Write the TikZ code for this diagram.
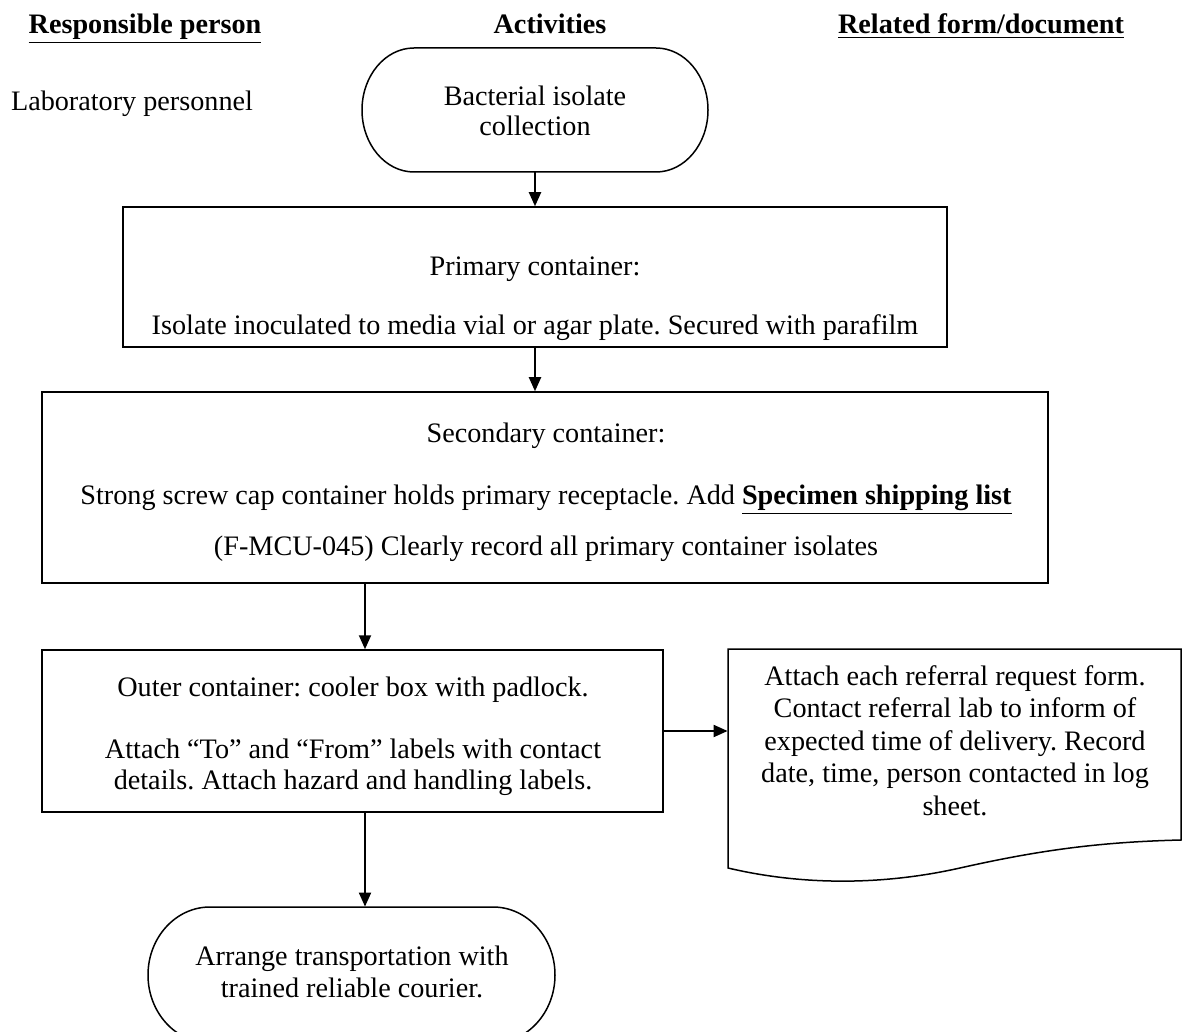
\documentclass[tikz,border=0pt]{standalone}
\usepackage{fontspec}
\setmainfont{Liberation Serif}
\usetikzlibrary{arrows.meta,fit}
\begin{document}
\frenchspacing
\begin{tikzpicture}[x=0.5pt,y=-0.5pt,
  box/.style={draw, line width=0.75pt, inner sep=0pt},
  ghost/.style={inner sep=0pt},
  txt/.style={font=\fontsize{14.1}{16.25}\selectfont, inner sep=0pt, anchor=base},
  head/.style={font=\fontsize{14.1}{16.25}\selectfont\bfseries, inner sep=0pt, anchor=base},
  arr/.style={line width=1pt, -{Triangle[length=7pt,width=6pt]}},
  shp/.style={line width=0.75pt}]
\useasboundingbox (0,0) rectangle (1184,1032);
\clip (0,0) rectangle (1184,1032);

% headings
\node[head] (h1) at (145,34) {\underline{Responsible person}};
\node[head] (h2) at (550,34) {Activities};
\node[head] (h3) at (981,34) {\underline{Related form/document}};
\node[txt] (lab) at (132,111) {Laboratory personnel};

% top terminal
\node[ghost, fit={(362,48) (708,172)}] (t1) {};
\draw[shp] (414,48) -- (656,48) arc[start angle=-90, end angle=90, x radius=52, y radius=62]
  -- (414,172) arc[start angle=90, end angle=270, x radius=52, y radius=62] -- cycle;
\node[txt] (t1a) at (535,106) {Bacterial isolate};
\node[txt] (t1b) at (535,136) {collection};

% primary
\node[box, fit={(123,207) (947,347)}] (prim) {};
\node[txt] (prima) at (535,276) {Primary container:};
\node[txt] (primb) at (535,335) {Isolate inoculated to media vial or agar plate. Secured with parafilm};

% secondary
\node[box, fit={(42,392) (1048,583)}] (sec) {};
\node[txt] (seca) at (546,443) {Secondary container:};
\node[txt] (secb) at (546,504) {Strong screw cap container holds primary receptacle. Add \textbf{\underline{Specimen shipping list}}};
\node[txt] (secc) at (546,555) {(F-MCU-045) Clearly record all primary container isolates};

% outer
\node[box, fit={(42,650) (663,812)}] (out) {};
\node[txt] (outa) at (353,696) {Outer container: cooler box with padlock.};
\node[txt] (outb) at (353,758) {Attach “To” and “From” labels with contact};
\node[txt] (outc) at (353,789) {details. Attach hazard and handling labels.};

% document
\node[ghost, fit={(728,649) (1181,868)}] (doc) {};
\draw[shp] (728,649) -- (1181,649) -- (1181,840)
  .. controls (1100,842) and (1040,850) .. (960,868)
  .. controls (880,886) and (800,885) .. (728,868) -- cycle;
\node[txt, align=center, font=\fontsize{14.1}{16.25}\selectfont, anchor=north] (doct) at (955,665)
  {Attach each referral request form.\\Contact referral lab to inform of\\expected time of delivery. Record\\date, time, person contacted in log\\sheet.};

% bottom terminal
\node[ghost, fit={(148,907) (555,1030)}] (t2) {};
\draw[shp] (210,907) -- (493,907) arc[start angle=-90, end angle=90, x radius=62, y radius=68]
  -- (210,1043) arc[start angle=90, end angle=270, x radius=62, y radius=68] -- cycle;
\node[txt] (t2a) at (352,965) {Arrange transportation with};
\node[txt] (t2b) at (352,997) {trained reliable courier.};

% arrows
\draw[arr] (t1.south) -- (prim.north);
\draw[arr] (prim.south) -- (sec.north -| prim.south);
\coordinate (c1) at (365,583);
\draw[arr] (c1) -- (c1 |- out.north);
\draw[arr] (out.east) -- (out.east -| doc.west);
\coordinate (c2) at (365,812);
\draw[arr] (c2) -- (c2 |- t2.north);
\end{tikzpicture}
\end{document}
